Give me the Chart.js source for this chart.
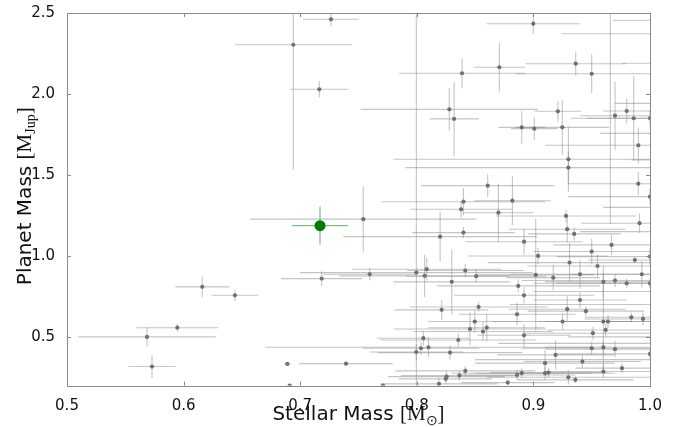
<!DOCTYPE html>
<html><head><meta charset="utf-8">
<script src="https://cdn.jsdelivr.net/npm/chart.js@4.4.1/dist/chart.umd.min.js"></script>
<style>html,body{margin:0;padding:0;background:#fff}#wrap{width:678px;height:427px}</style>
</head><body><div id="wrap"><canvas id="c" width="678" height="427"></canvas></div>
<script>
// ---- data ----
const stellarMass = [
 0.7264,0.6941,0.7164,0.7541,0.7184,0.7596,0.616,0.644,0.5946,0.5686,0.5729,0.689,0.7393,0.691,0.771,
 0.8999,0.8388,0.8708,0.9363,0.950,0.8279,0.832,0.921,0.890,0.9008,0.9248,0.930,0.930,0.8608,0.970,0.980,0.986,1.0,0.990,0.990,1.0,
 0.840,0.838,0.870,0.882,0.820,0.840,0.892,0.902,0.904,0.7996,0.8085,0.8067,0.8416,0.851,0.830,0.887,0.892,0.917,
 0.928,0.929,0.935,0.950,0.955,0.967,0.987,0.991,1.0,0.993,0.980,0.970,0.960,0.940,0.931,1.0,
 0.8213,0.853,0.886,0.8497,0.8456,0.8568,0.860,0.8356,0.892,0.8056,0.7996,0.8036,0.810,0.8285,
 0.919,0.925,0.929,0.940,0.945,0.951,0.960,0.964,0.962,0.984,0.994,0.950,0.960,0.970,1.0,
 0.942,0.910,0.960,0.976,0.930,0.936,0.910,0.913,0.890,0.886,0.878,0.8416,0.8365,0.8256,0.8248,0.819,
 1.02,1.01,1.03,1.01,1.03,1.02,1.03,1.04,1.02,1.03,1.02,1.04,1.03,0.966
];
const planetMass = [
 2.461,2.304,2.029,1.227,0.860,0.887,0.809,0.757,0.557,0.500,0.317,0.333,0.335,0.200,0.200,
 2.434,2.128,2.165,2.187,2.125,1.905,1.846,1.893,1.794,1.786,1.794,1.597,1.545,1.434,1.866,1.895,1.850,1.850,1.683,1.446,1.366,
 1.335,1.288,1.267,1.341,1.119,1.144,1.088,0.883,1.000,0.897,0.918,0.877,0.910,0.875,0.840,0.815,0.757,0.866,
 1.247,1.165,1.136,1.027,0.938,1.068,0.975,1.202,0.996,0.887,0.831,0.848,0.840,0.887,0.959,0.831,
 0.667,0.685,0.640,0.595,0.549,0.533,0.557,0.481,0.510,0.492,0.407,0.430,0.436,0.403,
 0.389,0.595,0.671,0.728,0.659,0.523,0.595,0.595,0.543,0.621,0.611,0.430,0.436,0.424,0.395,
 0.348,0.338,0.286,0.307,0.251,0.235,0.276,0.280,0.276,0.265,0.218,0.290,0.261,0.255,0.241,0.210,
 2.455,2.372,2.190,1.942,1.757,1.593,1.300,1.150,0.780,0.700,0.500,0.460,0.360,2.650
];
const stellarMassErr = [
 0.024,0.050,0.025,0.097,0.035,0.040,0.023,0.020,0.035,0.059,0.020,0.003,0.040,0.003,0.003,
 0.040,0.054,0.022,0.043,0.065,0.076,0.021,0.020,0.020,0.020,0.040,0.150,0.140,0.057,0.030,0.020,0.040,0.068,0.080,0.060,0.070,
 0.070,0.044,0.030,0.033,0.083,0.044,0.050,0.050,0.060,0.100,0.064,0.073,0.050,0.060,0.050,0.070,0.060,0.040,
 0.060,0.050,0.040,0.050,0.060,0.050,0.040,0.050,0.080,0.060,0.060,0.080,0.050,0.060,0.070,0.100,
 0.040,0.059,0.050,0.040,0.065,0.060,0.050,0.067,0.040,0.040,0.040,0.050,0.140,0.062,
 0.050,0.060,0.050,0.040,0.050,0.060,0.050,0.060,0.050,0.040,0.050,0.060,0.050,0.060,0.080,
 0.050,0.060,0.050,0.040,0.070,0.050,0.060,0.050,0.060,0.050,0.040,0.060,0.050,0.050,0.040,0.050,
 0.052,0.086,0.054,0.040,0.073,0.036,0.070,0.100,0.120,0.150,0.090,0.170,0.180,0.002
];
const planetMassErr = [
 0.045,0.770,0.050,0.200,0.045,0.038,0.064,0.033,0.023,0.060,0.070,0.005,0.005,0.010,0.010,
 0.065,0.093,0.150,0.075,0.120,0.130,0.230,0.065,0.100,0.070,0.170,0.200,0.100,0.070,0.210,0.075,0.260,0.050,0.110,0.070,0.050,
 0.085,0.050,0.180,0.150,0.155,0.035,0.080,0.345,0.050,1.750,0.070,0.130,0.040,0.040,0.200,0.040,0.050,0.080,
 0.040,0.080,0.040,0.080,0.070,0.060,0.020,0.060,0.050,0.080,0.030,0.040,0.100,0.090,0.120,0.030,
 0.060,0.030,0.070,0.070,0.100,0.060,0.085,0.040,0.070,0.045,0.050,0.040,0.060,0.045,
 0.090,0.050,0.080,0.050,0.030,0.040,0.300,0.040,0.040,0.030,0.040,0.040,0.040,0.050,0.030,
 0.040,0.080,0.040,0.030,0.045,0.020,0.040,0.030,0.030,0.030,0.020,0.030,0.030,0.030,0.030,0.040,
 0.050,0.050,0.100,0.050,0.100,0.100,0.100,0.100,0.100,0.100,0.100,0.100,0.100,1.450
];
const highlightStellarMass = [0.717];
const highlightPlanetMass = [1.187];
const highlightStellarErr = [0.024];
const highlightPlanetErr = [0.118];
const xTickValues = [0.5, 0.6, 0.7, 0.8, 0.9, 1.0];
const yTickValues = [0.5, 1.0, 1.5, 2.0, 2.5];

// ---- build ----
const toPts = (xs, ys, xe, ye) => xs.map((v, i) => ({x: v, y: ys[i], xe: xe[i], ye: ye[i]}));

const errorBars = {
  id: 'errorBars',
  beforeDatasetsDraw(chart) {
    const {ctx, chartArea: a, scales: {x, y}} = chart;
    ctx.save();
    ctx.beginPath(); ctx.rect(a.left, a.top, a.right - a.left, a.bottom - a.top); ctx.clip();
    const sets = chart.data.datasets.slice().sort((p, q) => q.order - p.order);
    sets.forEach(ds => {
      ctx.strokeStyle = ds.errColor; ctx.lineWidth = ds.errWidth;
      ds.data.forEach(p => {
        const px = x.getPixelForValue(p.x), py = y.getPixelForValue(p.y);
        ctx.beginPath();
        ctx.moveTo(x.getPixelForValue(p.x - p.xe), py); ctx.lineTo(x.getPixelForValue(p.x + p.xe), py);
        ctx.stroke();
        ctx.beginPath();
        ctx.moveTo(px, y.getPixelForValue(p.y - p.ye)); ctx.lineTo(px, y.getPixelForValue(p.y + p.ye));
        ctx.stroke();
      });
    });
    ctx.restore();
  }
};

const frame = {
  id: 'frame',
  afterDraw(chart) {
    const {ctx, chartArea: a, scales: {x, y}} = chart;
    ctx.save();
    ctx.strokeStyle = '#8a8a8a'; ctx.lineWidth = 1;
    ctx.strokeRect(Math.round(a.left) + 0.5, Math.round(a.top) + 0.5, Math.round(a.right - a.left), Math.round(a.bottom - a.top));
    ctx.beginPath();
    const L = 4;
    xTickValues.forEach(v => {
      const px = Math.round(x.getPixelForValue(v)) + 0.5;
      ctx.moveTo(px, a.bottom); ctx.lineTo(px, a.bottom - L);
      ctx.moveTo(px, a.top); ctx.lineTo(px, a.top + L);
    });
    yTickValues.forEach(v => {
      const py = Math.round(y.getPixelForValue(v)) + 0.5;
      ctx.moveTo(a.left, py); ctx.lineTo(a.left + L, py);
      ctx.moveTo(a.right, py); ctx.lineTo(a.right - L, py);
    });
    ctx.stroke();

    // axis titles (with math-style parts)
    ctx.fillStyle = '#111';
    const sans = '20px "DejaVu Sans"', serif = '21px "Liberation Serif"', sub = '14px "Liberation Serif"';
    function parts(list) {
      let w = 0;
      list.forEach(p => { ctx.font = p.f; p.w = ctx.measureText(p.t).width; w += p.w; });
      return w;
    }
    function drawParts(list, x0, base) {
      let cx = x0;
      list.forEach(p => { ctx.font = p.f; ctx.fillText(p.t, cx, base + (p.dy || 0)); cx += p.w; });
    }
    ctx.textBaseline = 'alphabetic'; ctx.textAlign = 'left';
    const xt = [{t: 'Stellar Mass ', f: sans}, {t: '[M', f: serif}, {t: '\u2299', f: sub, dy: 5}, {t: ']', f: serif}];
    const wx = parts(xt);
    drawParts(xt, (a.left + a.right) / 2 - wx / 2, 420);
    const yt = [{t: 'Planet Mass ', f: sans}, {t: '[M', f: serif}, {t: 'Jup', f: sub, dy: 4}, {t: ']', f: serif}];
    const wy = parts(yt);
    ctx.translate(31, (a.top + a.bottom) / 2 - 3);
    ctx.rotate(-Math.PI / 2);
    drawParts(yt, -wy / 2, 0);
    ctx.restore();
  }
};

new Chart(document.getElementById('c'), {
  type: 'scatter',
  data: {
    datasets: [
      {
        label: 'highlight',
        data: toPts(highlightStellarMass, highlightPlanetMass, highlightStellarErr, highlightPlanetErr),
        pointRadius: 5.5, pointBackgroundColor: '#007d00', pointBorderWidth: 0,
        errColor: 'rgba(60,160,60,0.65)', errWidth: 1.2, order: 0, clip: 0
      },
      {
        label: 'planets',
        data: toPts(stellarMass, planetMass, stellarMassErr, planetMassErr),
        pointRadius: 2.1, pointBackgroundColor: '#707070', pointBorderWidth: 0,
        errColor: 'rgba(140,140,140,0.5)', errWidth: 1.1, order: 1, clip: 0
      }
    ]
  },
  options: {
    responsive: false, animation: false, devicePixelRatio: 1,
    layout: {padding: {left: 0, right: 28, top: 13, bottom: 0}},
    plugins: {legend: {display: false}, tooltip: {enabled: false}},
    scales: {
      x: {
        type: 'linear', min: 0.5, max: 1.0,
        afterBuildTicks: s => { s.ticks = xTickValues.map(v => ({value: v})); },
        afterFit: s => { s.height = 41.5; },
        grid: {display: false}, border: {display: false},
        ticks: {color: '#111', padding: 4, font: {family: 'DejaVu Sans', size: 15}, callback: v => Number(v).toFixed(1), maxRotation: 0}
      },
      y: {
        type: 'linear', min: 0.2, max: 2.5,
        afterBuildTicks: s => { s.ticks = yTickValues.map(v => ({value: v})); },
        afterFit: s => { s.width = 67; },
        grid: {display: false}, border: {display: false},
        ticks: {color: '#111', padding: 4, font: {family: 'DejaVu Sans', size: 15}, callback: v => Number(v).toFixed(1)}
      }
    }
  },
  plugins: [errorBars, frame]
});
</script></body></html>
